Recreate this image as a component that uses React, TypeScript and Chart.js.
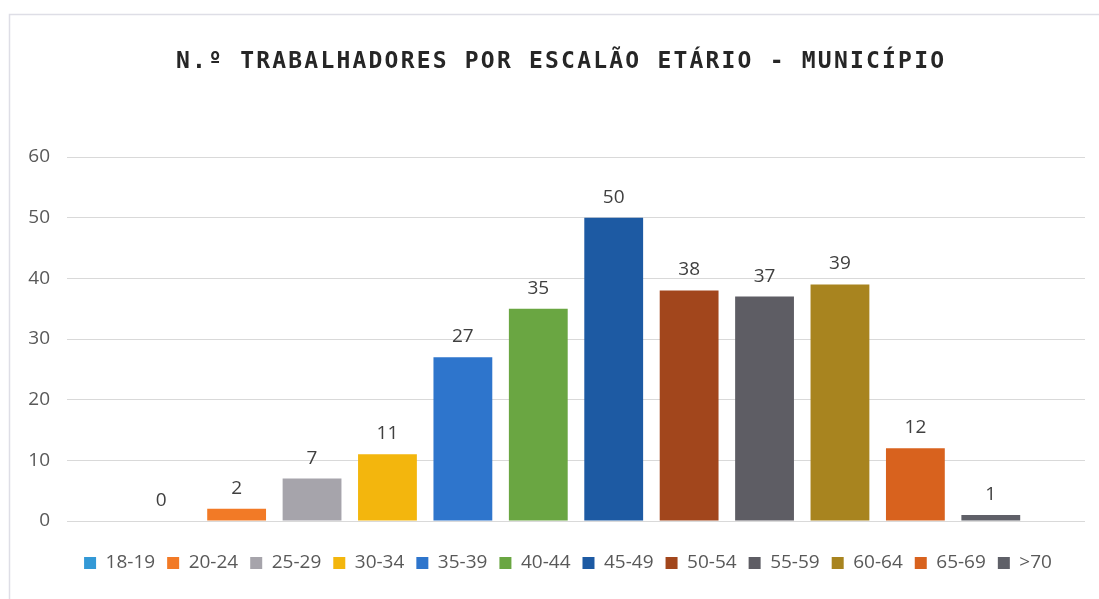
import React, { useEffect, useRef } from "react";
import { Chart, registerables } from "chart.js";

Chart.register(...registerables);

const TITLE = "N.º TRABALHADORES POR ESCALÃO ETÁRIO - MUNICÍPIO";
const ageGroups = ["18-19", "20-24", "25-29", "30-34", "35-39", "40-44", "45-49", "50-54", "55-59", "60-64", "65-69", ">70"];
const workers = [0, 2, 7, 11, 27, 35, 50, 38, 37, 39, 12, 1];
const barColors = ["#3399d6", "#f27a26", "#a6a4ab", "#f3b60d", "#2e75cc", "#6aa642", "#1d5aa3", "#a2461c", "#5e5d64", "#a8841f", "#d8621e", "#5f6068"];
const yTicks = [0, 10, 20, 30, 40, 50, 60];

const FONT = '"Open Sans", "Liberation Sans", sans-serif';

const decorPlugin = {
  id: "decor",
  afterLayout(chart: any) {
    const lg = chart.legend;
    if (lg) {
      lg.left -= 8;
      lg.right -= 8;
    }
  },
  beforeDraw(chart: any) {
    const ctx = chart.ctx;
    ctx.save();
    ctx.strokeStyle = "#dedee6";
    ctx.lineWidth = 1.5;
    ctx.beginPath();
    ctx.moveTo(9.5, 599);
    ctx.lineTo(9.5, 14.5);
    ctx.lineTo(1099, 14.5);
    ctx.stroke();
    ctx.restore();
  },
  afterDraw(chart: any) {
    const ctx = chart.ctx;
    ctx.save();
    ctx.font = 'bold 23px "DejaVu Sans Mono", monospace';
    (ctx as any).letterSpacing = "2.2px";
    ctx.fillStyle = "#262626";
    ctx.textAlign = "center";
    ctx.textBaseline = "middle";
    ctx.fillText(TITLE, 561.1, 62);
    (ctx as any).letterSpacing = "0px";
    ctx.restore();
  },
};

const labelPlugin = {
  id: "valueLabels",
  afterDatasetsDraw(chart: any) {
    const ctx = chart.ctx;
    ctx.save();
    ctx.font = `19px ${FONT}`;
    ctx.fillStyle = "#404040";
    ctx.textAlign = "center";
    ctx.textBaseline = "alphabetic";
    chart.data.datasets.forEach((ds: any, i: number) => {
      const meta = chart.getDatasetMeta(i);
      meta.data.forEach((el: any, j: number) => {
        const v = ds.data[j];
        if (v === null || v === undefined) return;
        ctx.fillText(String(v), el.x, el.y - 15);
      });
    });
    ctx.restore();
  },
};

export default function App() {
  const ref = useRef<HTMLCanvasElement | null>(null);

  useEffect(() => {
    if (!ref.current) return;
    const chart = new Chart(ref.current, {
      type: "bar",
      data: {
        labels: [""],
        datasets: ageGroups.map((g, i) => ({
          label: g,
          data: [workers[i]],
          backgroundColor: barColors[i],
          borderWidth: 0,
          categoryPercentage: 0.889,
          barPercentage: 0.78,
        })),
      },
      options: {
        responsive: false,
        animation: false,
        devicePixelRatio: 1,
        layout: { padding: { top: 157, left: 0, right: 14, bottom: 16.5 } },
        plugins: {
          title: { display: false },
          tooltip: { enabled: false },
          legend: {
            position: "bottom",
            fullSize: false,
            labels: {
              boxWidth: 12,
              boxHeight: 12,
              padding: 12,
              color: "#595959",
              font: { family: FONT, size: 19 },
            },
          },
        },
        scales: {
          x: {
            display: true,
            grid: { display: false },
            border: { display: false },
            ticks: { display: false },
            afterFit: (s: any) => {
              s.height = 20.5;
            },
          },
          y: {
            min: 0,
            max: 60,
            afterBuildTicks: (s: any) => {
              s.ticks = yTicks.map((v) => ({ value: v }));
            },
            grid: { color: "#d9d9d9", lineWidth: 1, drawTicks: false },
            border: { display: false },
            ticks: {
              padding: 17,
              color: "#595959",
              font: { family: FONT, size: 19 },
            },
            afterFit: (s: any) => {
              s.width = 67;
            },
          },
        },
      },
      plugins: [decorPlugin, labelPlugin],
    });
    return () => chart.destroy();
  }, []);

  return (
    <div style={{ position: "fixed", left: 0, top: 0, width: 1099, height: 599, background: "#ffffff" }}>
      <canvas ref={ref} width={1099} height={599} />
    </div>
  );
}
